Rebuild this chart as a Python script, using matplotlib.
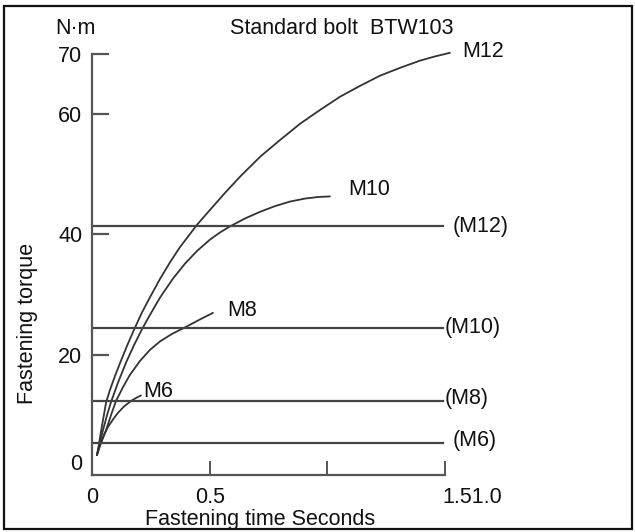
import matplotlib
matplotlib.use('Agg')
import matplotlib.pyplot as plt
import matplotlib.transforms as mtransforms
from matplotlib.patches import Rectangle

plt.rcParams['font.family'] = ['Liberation Sans', 'DejaVu Sans']

# torque curves (time in s, torque in N·m)
m12_t = [0.021, 0.030, 0.038, 0.047, 0.060, 0.076, 0.098, 0.119, 0.149, 0.178, 0.212, 0.247,
         0.289, 0.332, 0.374, 0.417, 0.446, 0.502, 0.565, 0.629, 0.714, 0.799, 0.884, 0.969,
         1.054, 1.139, 1.224, 1.309, 1.394, 1.458, 1.521]
m12_v = [3.3, 5.2, 7.2, 9.2, 12.1, 14.1, 16.5, 18.6, 21.5, 24.1, 27.0, 29.6,
         32.6, 35.4, 37.9, 40.1, 41.6, 44.1, 46.9, 49.6, 52.9, 55.7, 58.4, 60.7,
         62.9, 64.7, 66.4, 67.7, 68.9, 69.6, 70.2]

m10_t = [0.021, 0.034, 0.047, 0.064, 0.081, 0.110, 0.144, 0.178, 0.212, 0.247, 0.289, 0.344,
         0.395, 0.446, 0.501, 0.544, 0.586, 0.650, 0.714, 0.778, 0.841, 0.905, 0.960, 1.011]
m10_v = [3.33, 5.49, 7.49, 9.98, 12.15, 15.31, 18.64, 21.55, 24.21, 26.67, 29.50, 32.65,
         35.14, 37.24, 39.13, 40.33, 41.33, 42.65, 43.76, 44.71, 45.46, 45.96, 46.22, 46.32]

m8_t = [0.021, 0.038, 0.060, 0.081, 0.102, 0.132, 0.161, 0.204, 0.246, 0.289, 0.340, 0.395,
        0.459, 0.514]
m8_v = [3.33, 5.32, 7.49, 9.98, 12.31, 14.64, 16.64, 18.97, 20.80, 22.21, 23.46, 24.54,
        25.87, 26.96]

m6_t = [0.021, 0.034, 0.051, 0.068, 0.089, 0.110, 0.136, 0.166, 0.187, 0.208]
m6_v = [3.33, 4.99, 6.66, 7.99, 9.23, 10.32, 11.40, 12.31, 12.81, 13.23]

curve_names = ['M12', 'M10', 'M8', 'M6']

# recommended torque levels
level_names = ['(M12)', '(M10)', '(M8)', '(M6)']
level_vals = [41.4, 24.5, 12.3, 5.3]

y_ticks = [0, 20, 40, 60, 70]
x_ticks = [0, 0.5, 1.0, 1.5]
x_labels = ['0', '0.5', '', '1.51.0']

W, H = 635, 532
FS = 15.5
fig = plt.figure(figsize=(W / 100, H / 100), dpi=100)


def px(x, y):
    return x / W, 1 - y / H


ax = fig.add_axes([92 / W, 1 - 475 / H, (445 - 92) / W, (475 - 54) / H])
ax.set_xlim(0, 1.5)
ax.set_ylim(0, 70)

ax.spines['top'].set_visible(False)
ax.spines['right'].set_visible(False)
for s in ['left', 'bottom']:
    ax.spines[s].set_color('#555555')
    ax.spines[s].set_linewidth(1.6)

curve_color = '#333333'
curves = [(m12_t, m12_v), (m10_t, m10_v), (m8_t, m8_v), (m6_t, m6_v)]
curve_offsets = [(9, 1), (13, 5), (10, 2), (1.5, 3)]
for (t, v), name, off in zip(curves, curve_names, curve_offsets):
    ax.plot(t, v, color=curve_color, lw=1.3, solid_capstyle='round', clip_on=False)
    ax.annotate(name, xy=(t[-1], v[-1]), xytext=off, textcoords='offset points',
                ha='left', va='center', fontsize=FS, color='#111111',
                annotation_clip=False)

level_offsets = [(7, 0), (1.5, 0), (1.5, 1.5), (7, 2)]
for name, val, off in zip(level_names, level_vals, level_offsets):
    ax.plot([0, 1.49], [val, val], color='#444444', lw=1.6)
    ax.annotate(name, xy=(1.49, val), xytext=off, textcoords='offset points',
                ha='left', va='center', fontsize=FS, color='#111111',
                annotation_clip=False)

ax.set_yticks(y_ticks)
ax.set_yticklabels([str(v) for v in y_ticks])
ax.tick_params(axis='y', direction='in', length=12, width=1.6, color='#555555',
               pad=7, labelsize=FS, labelcolor='#111111')
ax.set_xticks(x_ticks)
ax.set_xticklabels(x_labels)
ax.tick_params(axis='x', direction='in', length=10, width=1.4, color='#555555',
               pad=8.5, labelsize=FS, labelcolor='#111111')
ax.get_xticklabels()[-1].set_ha('left')

# the "0" on the y axis sits a little above the corner
lab0 = ax.get_yticklabels()[0]
lab0.set_transform(lab0.get_transform() +
                   mtransforms.ScaledTranslation(0, 13 / 100, fig.dpi_scale_trans))
ax.yaxis.get_major_ticks()[0].tick1line.set_visible(False)
labx = ax.get_xticklabels()[-1]
labx.set_transform(labx.get_transform() +
                   mtransforms.ScaledTranslation(-3 / 100, 0, fig.dpi_scale_trans))

fig.text(*px(75, 29), 'N·m', ha='center', va='center', fontsize=FS, color='#111111')
fig.text(*px(230, 29), 'Standard bolt  BTW103', ha='left', va='center', fontsize=FS, color='#111111')
fig.text(*px(28, 323), 'Fastening torque', rotation=90, ha='center', va='center',
         fontsize=FS, color='#111111')
fig.text(*px(260, 520), 'Fastening time Seconds', ha='center', va='center',
         fontsize=FS, color='#111111')

# frame round the whole picture
fig.patches.append(Rectangle(px(4, 529), (632 - 4) / W, (529 - 6) / H, transform=fig.transFigure,
                             fill=False, edgecolor='#111111', linewidth=1.6))

fig.savefig('out.png', dpi=100)
